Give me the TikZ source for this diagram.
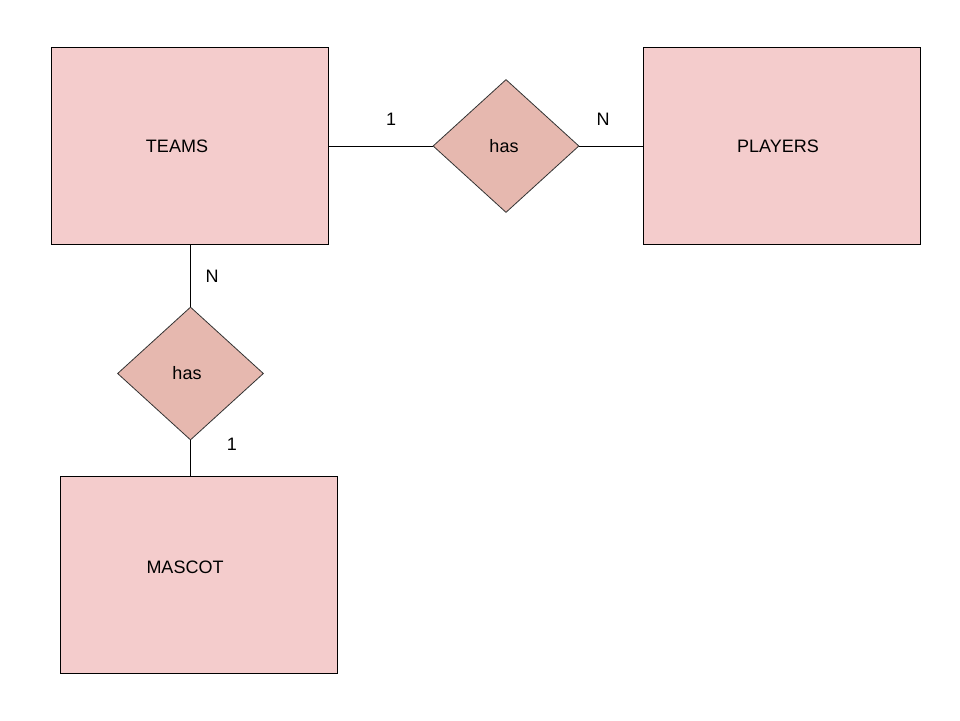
\documentclass[tikz,border=0pt]{standalone}
\usepackage{fontspec}
\setmainfont{Liberation Sans}
\usetikzlibrary{shapes.geometric}
\definecolor{entfill}{HTML}{F4CCCC}
\definecolor{relfill}{HTML}{E6B8AF}
\begin{document}
\begin{tikzpicture}[x=1pt,y=-1pt,
  entity/.style={draw=black,fill=entfill,minimum width=277pt,minimum height=197pt,inner sep=0pt,line width=0.8pt},
  rel/.style={draw=black!80,fill=relfill,shape=diamond,minimum width=146pt,minimum height=133pt,inner sep=0pt,line width=0.8pt},
  lbl/.style={font=\fontsize{18}{21}\selectfont,inner sep=0pt},
  conn/.style={draw=black,line width=0.8pt}]
\useasboundingbox (0,0) rectangle (960,720);
\fill[white] (0,0) rectangle (960,720);
\node[entity] (teams) at (189.5,146) {};
\node[entity] (players) at (781.5,146) {};
\node[entity] (mascot) at (198.5,574.5) {};
\node[rel] (has1) at (506,146) {};
\node[rel] (has2) at (190.5,373.5) {};
\node[lbl] at (177,146) {TEAMS};
\node[lbl] at (778,146) {PLAYERS};
\node[lbl] at (185,567) {MASCOT};
\node[lbl] at (504,146) {has};
\node[lbl] at (187,373) {has};
\coordinate (tb) at (190.5,245);
\coordinate (mt) at (190.5,476);
\draw[conn] (teams.east) -- (has1.west);
\draw[conn] (has1.east) -- (players.west);
\draw[conn] (tb) -- (has2.north);
\draw[conn] (has2.south) -- (mt);
\node[lbl] (l1) at (391,119) {1};
\node[lbl] (l2) at (603,119) {N};
\node[lbl] (l3) at (212,276) {N};
\node[lbl] (l4) at (232,444) {1};
\end{tikzpicture}
\end{document}
